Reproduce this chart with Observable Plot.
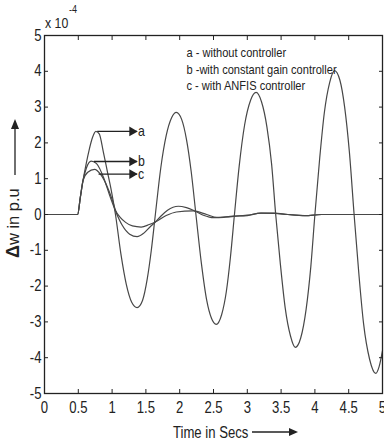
<!DOCTYPE html>
<html>
<head>
<meta charset="utf-8">
<script src="https://cdn.jsdelivr.net/npm/d3@7"></script>
<script src="https://cdn.jsdelivr.net/npm/@observablehq/plot@0.6"></script>
<style>
  html, body { margin: 0; padding: 0; background: #fff; }
  #chart svg { display: block; }
</style>
</head>
<body>
<div id="chart"></div>
<script>
// Speed deviation Δw (×10^-4 p.u) against time, three controller cases.
// a: without controller
const tA = [0, 0.49, 0.53, 0.57, 0.62, 0.66, 0.71, 0.76, 0.81, 0.87, 0.93, 0.98, 1.05, 1.13, 1.21, 1.29, 1.37, 1.45, 1.52, 1.58, 1.64, 1.72, 1.8, 1.88, 1.95, 2.03, 2.1, 2.17, 2.24, 2.32, 2.4, 2.47, 2.54, 2.62, 2.69, 2.75, 2.81, 2.88, 2.96, 3.05, 3.13, 3.21, 3.29, 3.36, 3.42, 3.49, 3.56, 3.64, 3.71, 3.79, 3.87, 3.94, 4.0, 4.07, 4.14, 4.22, 4.29, 4.37, 4.44, 4.51, 4.58, 4.65, 4.72, 4.81, 4.9, 4.95, 5.0];
const wA = [0, 0, 0.48, 0.95, 1.45, 1.8, 2.15, 2.32, 2.25, 1.75, 1.2, 0.75, 0, -1.1, -1.95, -2.45, -2.6, -2.4, -1.8, -1.0, 0, 1.3, 2.2, 2.7, 2.85, 2.65, 2.1, 1.2, 0, -1.35, -2.4, -2.9, -3.07, -2.8, -2.15, -1.2, 0, 1.35, 2.5, 3.2, 3.41, 3.15, 2.45, 1.4, 0, -1.4, -2.6, -3.4, -3.71, -3.45, -2.65, -1.45, 0, 1.55, 2.85, 3.7, 4.02, 3.75, 3.0, 1.75, 0, -1.65, -3.05, -4.05, -4.44, -4.25, -3.8];

// b: with constant gain controller
const tB = [0, 0.49, 0.53, 0.57, 0.62, 0.69, 0.77, 0.88, 0.97, 1.05, 1.15, 1.26, 1.37, 1.47, 1.56, 1.64, 1.72, 1.82, 1.98, 2.1, 2.2, 2.35, 2.5, 2.65, 2.8, 3.0, 3.2, 3.4, 3.6, 3.85, 4.1, 5.0];
const wB = [0, 0, 0.48, 0.95, 1.3, 1.49, 1.42, 1.0, 0.5, 0.1, -0.3, -0.55, -0.62, -0.52, -0.35, -0.21, -0.05, 0.12, 0.23, 0.19, 0.12, -0.02, -0.09, -0.08, -0.05, -0.03, 0.04, 0.04, 0, -0.03, 0, 0];

// c: with ANFIS controller
const tC = [0, 0.49, 0.53, 0.57, 0.64, 0.74, 0.83, 0.93, 1.0, 1.05, 1.12, 1.2, 1.3, 1.43, 1.55, 1.64, 1.8, 1.95, 2.2, 2.4, 2.55, 2.75, 3.0, 3.2, 3.4, 3.6, 3.85, 4.1, 5.0];
const wC = [0, 0, 0.48, 0.95, 1.18, 1.26, 1.12, 0.77, 0.42, 0.12, -0.08, -0.22, -0.32, -0.35, -0.28, -0.21, -0.03, 0.07, 0.1, 0, -0.08, -0.05, -0.02, 0.04, 0.03, 0, -0.03, 0, 0];

const xTicks = [0, 0.5, 1, 1.5, 2, 2.5, 3, 3.5, 4, 4.5, 5];
const yTicks = [-5, -4, -3, -2, -1, 0, 1, 2, 3, 4, 5];

const legendLines = ["a - without controller", "b -with constant gain controller", "c - with ANFIS controller"];

// pointer arrows from each response to its letter
const arrowLabels = ["a", "b", "c"];
const arrowStart = [0.78, 0.73, 0.80];
const arrowLevel = [2.32, 1.48, 1.13];
const arrowTip = 1.37;

const rows = [
  ...tA.map((t, i) => ({t, w: wA[i], s: "a"})),
  ...tB.map((t, i) => ({t, w: wB[i], s: "b"})),
  ...tC.map((t, i) => ({t, w: wC[i], s: "c"}))
];
const arrows = arrowLabels.map((k, i) => ({k, t0: arrowStart[i], t1: arrowTip, w: arrowLevel[i]}));

const ink = "#222";
const trace = "#474747";
const font = "'Liberation Sans', Arial, Helvetica, sans-serif";
const squeeze = 0.82; // narrow, MATLAB-style lettering

// Axis titles, their arrows and the exponent note, placed around the frame.
function titles(index, scales, values, dims) {
  const {marginLeft: ml, marginTop: mt, height: h} = dims;
  const g = d3.create("svg:g").attr("fill", ink).attr("font-family", font).attr("text-anchor", "start");
  // exponent note
  g.append("text").attr("x", ml + 1).attr("y", mt - 7).attr("font-size", 15).text("x 10");
  g.append("text").attr("x", ml + 25).attr("y", mt - 22).attr("font-size", 11).text("-4");
  // x title
  const xb = h - 7;
  g.append("text").attr("x", ml + 129).attr("y", xb).attr("font-size", 16).text("Time in Secs");
  g.append("line").attr("x1", ml + 208).attr("x2", ml + 246).attr("y1", xb - 6).attr("y2", xb - 6)
    .attr("stroke", ink).attr("stroke-width", 1.3);
  g.append("path").attr("d", `M${ml + 254},${xb - 6}L${ml + 245},${xb - 10}L${ml + 245},${xb - 2}Z`);
  // y title (runs along the axis, so it keeps its full length)
  const yt = g.append("text").attr("class", "upright")
    .attr("transform", `translate(19,${mt + 223}) rotate(-90)`).attr("font-size", 16.5);
  yt.append("tspan").attr("font-weight", "bold").attr("font-size", 18).text("Δ");
  yt.append("tspan").text("w in p.u");
  g.append("line").attr("x1", 15).attr("x2", 15).attr("y1", mt + 140).attr("y2", mt + 93)
    .attr("stroke", ink).attr("stroke-width", 1.3);
  g.append("path").attr("d", `M15,${mt + 84}L11,${mt + 94}L19,${mt + 94}Z`);
  return g.node();
}

const chart = Plot.plot({
  width: 384,
  height: 445,
  marginLeft: 44,
  marginRight: 2,
  marginTop: 35,
  marginBottom: 52,
  style: {fontFamily: font, fontSize: "16px", color: ink, background: "#fff", overflow: "visible"},
  x: {domain: [0, 5]},
  y: {domain: [-5, 5]},
  marks: [
    Plot.line(rows, {x: "t", y: "w", z: "s", stroke: trace, strokeWidth: 1.2, curve: "monotone-x"}),
    // pointer arrows
    Plot.link(arrows, {x1: "t0", x2: "t1", y1: "w", y2: "w", stroke: ink, strokeWidth: 1.3}),
    Plot.dot(arrows, {x: "t1", y: "w", dx: -5, symbol: "triangle", rotate: 90, r: 3.6, fill: ink, stroke: null}),
    Plot.text(arrows, {x: "t1", y: "w", text: "k", dx: 1, textAnchor: "start", fontSize: 15, fill: ink}),
    // legend note
    Plot.text(legendLines, {x: 2.1, y: (d, i) => 4.39 - i * 0.458, text: d => d, lineAnchor: "bottom",
      textAnchor: "start", fontSize: 13.5, fill: ink}),
    // inward ticks on all four sides
    Plot.axisX(xTicks, {anchor: "bottom", tickSize: -4, tickFormat: () => "", label: null, stroke: ink}),
    Plot.axisX(xTicks, {anchor: "top", tickSize: -4, tickFormat: () => "", label: null, stroke: ink}),
    Plot.axisY(yTicks, {anchor: "left", tickSize: -4, tickFormat: () => "", label: null, stroke: ink}),
    Plot.axisY(yTicks, {anchor: "right", tickSize: -4, tickFormat: () => "", label: null, stroke: ink}),
    // tick labels
    Plot.axisX(xTicks, {anchor: "bottom", tickSize: 0, tickPadding: 8, label: null, fill: ink, fontSize: 16,
      tickFormat: d => String(d)}),
    Plot.axisY(yTicks, {anchor: "left", tickSize: 0, tickPadding: 3, label: null, fill: ink, fontSize: 16,
      tickFormat: d => String(d)}),
    Plot.frame({stroke: ink, strokeWidth: 1.3}),
    titles
  ]
});

document.getElementById("chart").appendChild(chart);

// condense the lettering horizontally (narrow face), keeping each anchor in place
d3.select(chart).selectAll("text, tspan").each(function() {
  if (this.closest(".upright")) return;
  if (this.childElementCount > 0 || !this.textContent) return;
  const len = this.getComputedTextLength();
  if (len > 0) {
    this.setAttribute("textLength", (len * squeeze).toFixed(2));
    this.setAttribute("lengthAdjust", "spacingAndGlyphs");
  }
});
</script>
</body>
</html>
